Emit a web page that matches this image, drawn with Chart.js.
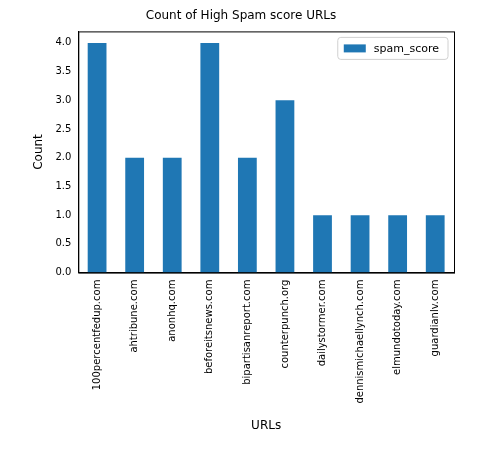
<!DOCTYPE html>
<html><head><meta charset="utf-8">
<script src="https://cdn.jsdelivr.net/npm/chart.js@4"></script>
<style>body{margin:0;background:#fff}#wrap{width:495px;height:451px}</style>
</head><body><div id="wrap"><canvas id="c" width="495" height="451"></canvas></div>
<script>
const urls = ['100percentfedup.com','ahtribune.com','anonhq.com','beforeitsnews.com','bipartisanreport.com','counterpunch.org','dailystormer.com','dennismichaellynch.com','elmundotoday.com','guardianlv.com'];
const spamCounts = [4, 2, 2, 4, 2, 3, 1, 1, 1, 1];
const yTicks = [0, 0.5, 1, 1.5, 2, 2.5, 3, 3.5, 4];

// matplotlib-ish legend drawn inside the plot area, top right
const boxLegend = {
  id: 'boxLegend',
  afterDraw(chart) {
    const { ctx, chartArea: a } = chart;
    const ds = chart.data.datasets[0];
    ctx.save();
    ctx.font = '11px "DejaVu Sans"';
    const w = ctx.measureText(ds.label).width + 45, h = 22;
    const x = a.right - w - 6, y = a.top + 6;
    ctx.strokeStyle = '#d0d0d0'; ctx.fillStyle = '#fff';
    ctx.beginPath(); ctx.roundRect(x, y, w, h, 3); ctx.fill(); ctx.stroke();
    ctx.fillStyle = ds.backgroundColor; ctx.fillRect(x + 6, y + 7, 22, 8);
    ctx.fillStyle = '#000'; ctx.textBaseline = 'middle';
    ctx.fillText(ds.label, x + 36, y + h / 2 + 1);
    ctx.restore();
  }
};
const frame = {
  id: 'frame',
  afterDraw(chart) {
    const { ctx, chartArea: a } = chart;
    ctx.save(); ctx.strokeStyle = '#000'; ctx.lineWidth = 1;
    ctx.strokeRect(a.left + 0.5, a.top + 0.5, a.right - a.left, a.bottom - a.top);
    ctx.restore();
  }
};

new Chart(document.getElementById('c'), {
  type: 'bar',
  data: { labels: urls, datasets: [{ label: 'spam_score', data: spamCounts, backgroundColor: '#1f77b4', barPercentage: 0.5, categoryPercentage: 1 }] },
  options: {
    responsive: false, animation: false,
    layout: { padding: { top: 5, right: 41, bottom: 14, left: 28 } },
    plugins: {
      legend: { display: false }, tooltip: { enabled: false },
      title: { display: true, text: 'Count of High Spam score URLs', color: '#000', font: { family: 'DejaVu Sans', size: 12, weight: 'normal' }, padding: { top: 4, bottom: 8 } }
    },
    scales: {
      x: {
        grid: { display: false, drawTicks: true, tickLength: 4 },
        border: { color: '#000' },
        ticks: { color: '#000', maxRotation: 90, minRotation: 90, autoSkip: false, font: { family: 'DejaVu Sans', size: 10 } },
        title: { display: true, text: 'URLs', color: '#000', font: { family: 'DejaVu Sans', size: 12 }, padding: { top: 12 } }
      },
      y: {
        min: 0, max: 4.2,
        afterBuildTicks: s => { s.ticks = yTicks.map(v => ({ value: v })); },
        grid: { display: false, drawTicks: true, tickLength: 4 },
        border: { color: '#000' },
        ticks: { color: '#000', font: { family: 'DejaVu Sans', size: 10 }, callback: v => v.toFixed(1) },
        title: { display: true, text: 'Count', color: '#000', font: { family: 'DejaVu Sans', size: 12 }, padding: { bottom: 6 } }
      }
    }
  },
  plugins: [boxLegend, frame]
});
</script></body></html>
